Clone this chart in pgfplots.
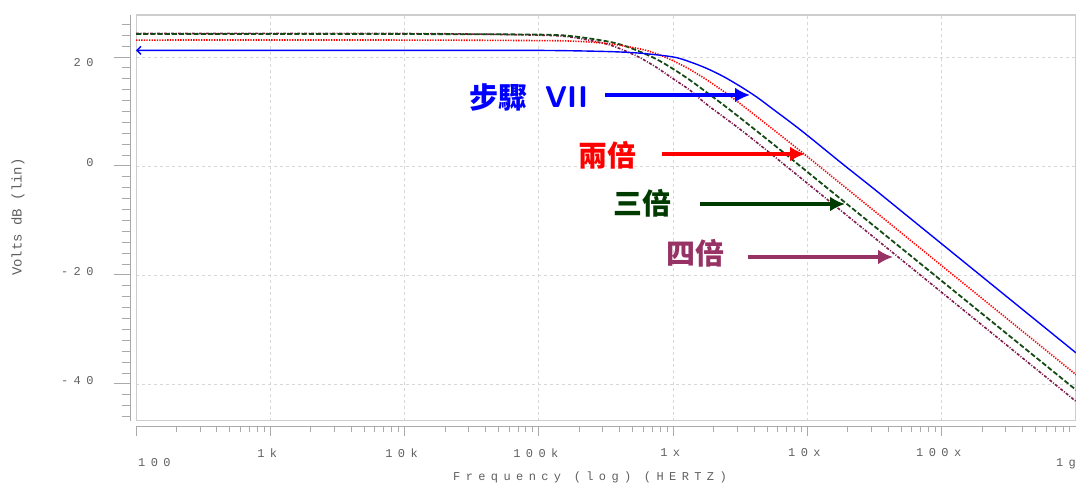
\documentclass[border=0pt]{standalone}
\usepackage{pgfplots}
\pgfplotsset{compat=1.18}
\usepackage{pgfplotstable}
\usepackage{fontspec}
\usetikzlibrary{arrows.meta}
\setmainfont{Liberation Sans}
\setmonofont{Liberation Mono}
\newfontfamily\cjk{Noto Sans CJK TC}
\newfontfamily\tickfont[LetterSpace=45]{Liberation Mono}
\definecolor{axgray}{RGB}{170,170,170}
\definecolor{framegray}{RGB}{205,205,205}
\definecolor{gridgray}{RGB}{215,215,215}
\definecolor{txtgray}{RGB}{95,95,95}
\definecolor{cblue}{RGB}{0,0,255}
\definecolor{cred}{RGB}{255,0,0}
\definecolor{cgreen}{RGB}{20,75,20}
\definecolor{cpurple}{RGB}{128,25,75}
\definecolor{lgreen}{RGB}{0,60,0}
\definecolor{lpurple}{RGB}{150,50,100}

\pgfplotstableread{
f db
100 21.2
1e4 21.2
1e5 21.2
3.162e5 21.0
5.623e5 20.7
1e6 20.0
1.334e6 19.1
1.778e6 17.9
2.371e6 16.4
3.162e6 14.6
4.217e6 12.6
5.623e6 10.3
7.499e6 8.0
1e7 5.6
1.778e7 0.6
3.162e7 -4.3
5.623e7 -9.3
1e8 -14.3
3.162e8 -24.3
1e9 -34.3
}\tblblue

\pgfplotstableread{
f db
100 23.1
1e4 23.1
1e5 23.0
1.778e5 22.9
3.162e5 22.5
5.623e5 21.5
7.499e5 20.6
1e6 19.3
1.334e6 17.7
1.778e6 15.8
2.371e6 13.7
3.162e6 11.4
5.623e6 6.6
1e7 1.7
1.778e7 -3.3
3.162e7 -8.3
5.623e7 -13.3
1e8 -18.3
3.162e8 -28.3
1e9 -38.3
}\tblred

\pgfplotstableread{
f db
100 24.2
1e4 24.2
1e5 24.1
1.778e5 23.8
3.162e5 22.9
4.217e5 22.15
5.623e5 21.0
7.499e5 19.6
1e6 17.8
1.334e6 15.75
1.778e6 13.5
2.371e6 11.2
3.162e6 8.8
5.623e6 3.9
1e7 -1.1
1.778e7 -6.1
3.162e7 -11.1
5.623e7 -16.1
1e8 -21.1
3.162e8 -31.1
1e9 -41.1
}\tblgreen

\pgfplotstableread{
f db
100 24.3
1e4 24.3
1e5 24.0
1.778e5 23.6
3.162e5 22.4
4.217e5 21.3
5.623e5 19.9
7.499e5 18.1
1e6 16.0
1.334e6 13.9
1.778e6 11.3
3.162e6 6.7
5.623e6 1.8
1e7 -3.2
1.778e7 -8.2
3.162e7 -13.2
5.623e7 -18.2
1e8 -23.2
3.162e8 -33.2
1e9 -43.2
}\tblpurple

\begin{document}
\begin{tikzpicture}
\useasboundingbox (0,0) rectangle (1076pt,484pt);
% main axis: grid, frame, data
\begin{axis}[
  scale only axis, width=940pt, height=406pt,
  at={(136pt,63pt)}, anchor=south west,
  xmode=log, xmin=100, xmax=1e9, ymin=-46.8, ymax=27.7,
  xtick={1e2,1e3,1e4,1e5,1e6,1e7,1e8,1e9}, minor xtick={},
  ytick={-40,-20,0,20}, minor ytick={},
  xticklabels={}, yticklabels={},
  tick style={draw=none},
  axis line style={draw=none},
  grid=major,
  major grid style={gridgray, line width=0.8pt, dash pattern=on 3pt off 3pt},
]
\draw[framegray, line width=2pt] (rel axis cs:0,0) rectangle (rel axis cs:1,1);
\addplot[cpurple, line width=1.6pt, smooth, tension=0.5, dash pattern=on 3pt off 1.5pt on 1pt off 1.5pt] table[x=f,y=db] {\tblpurple};
\addplot[cgreen, line width=1.8pt, smooth, tension=0.5, dash pattern=on 5pt off 2.2pt] table[x=f,y=db] {\tblgreen};
\addplot[cred, line width=1.6pt, smooth, tension=0.5, dash pattern=on 1.3pt off 1.3pt] table[x=f,y=db] {\tblred};
\addplot[cblue, line width=1.4pt, smooth, tension=0.5, {Straight Barb[length=4pt,width=8pt]}-] table[x=f,y=db] {\tblblue};
\end{axis}
% x axis line with ticks
\begin{axis}[
  scale only axis, width=940pt, height=406pt,
  at={(136pt,63pt)}, anchor=south west,
  xmode=log, xmin=100, xmax=1e9, ymin=-46.8, ymax=27.7,
  axis x line=bottom, axis y line=none,
  axis x line shift=6pt,
  every outer x axis line/.append style={-},
  x axis line style={-, draw=axgray, line width=1pt},
  xtick={1e2,1e3,1e4,1e5,1e6,1e7,1e8,1e9},
  xticklabels={,1k,10k,100k,1x,10x,100x,},
  minor xtick={2e2,3e2,4e2,5e2,6e2,7e2,8e2,9e2,2e3,3e3,4e3,5e3,6e3,7e3,8e3,9e3,2e4,3e4,4e4,5e4,6e4,7e4,8e4,9e4,2e5,3e5,4e5,5e5,6e5,7e5,8e5,9e5,2e6,3e6,4e6,5e6,6e6,7e6,8e6,9e6,2e7,3e7,4e7,5e7,6e7,7e7,8e7,9e7,2e8,3e8,4e8,5e8,6e8,7e8,8e8,9e8},
  tick align=outside, major tick length=9pt, minor tick length=5pt,
  tick style={axgray, line width=0.9pt},
  xticklabel style={font=\fontsize{12}{12}\tickfont, text=txtgray, yshift=-9pt, xshift=-3pt},
]
\end{axis}
% y axis line with ticks
\begin{axis}[
  scale only axis, width=940pt, height=406pt,
  at={(136pt,63pt)}, anchor=south west,
  xmode=log, xmin=100, xmax=1e9, ymin=-46.8, ymax=27.7,
  axis y line=left, axis x line=none,
  axis y line shift=6pt,
  every outer y axis line/.append style={-},
  y axis line style={-, draw=axgray, line width=1pt},
  ytick={-40,-20,0,20},
  yticklabels={{-40},{-20},{0},{\raisebox{-13pt}[0pt][0pt]{20}}},
  minor ytick={-46,-44,...,26},
  tick align=outside, major tick length=16pt, minor tick length=8pt,
  tick style={axgray, line width=0.9pt},
  yticklabel style={font=\fontsize{12}{12}\tickfont, text=txtgray, anchor=east, xshift=-17pt, yshift=3pt},
]
\end{axis}
% axis texts
\node[anchor=west, text=txtgray, font=\fontsize{12}{12}\tickfont, inner sep=0pt] at (138pt,21pt) {100};
\node[anchor=east, text=txtgray, font=\fontsize{12}{12}\tickfont, inner sep=0pt] at (1076pt,20pt) {1g};
\node[text=txtgray, font=\fontsize{12}{12}\tickfont, inner sep=0pt] at (590pt,7pt) {Frequency (log) (HERTZ)};
\node[rotate=90, text=txtgray, font=\fontsize{14}{14}\ttfamily, inner sep=0pt] at (18pt,267pt) {Volts dB (lin)};
% annotations
\node[text=cblue, font=\fontsize{29}{29}\cjk\bfseries, inner sep=0pt] at (498pt,386pt) {步驟};
\node[text=cblue, font=\fontsize{30}{30}\sffamily\bfseries, inner sep=0pt, anchor=west] at (545pt,387pt) {VII};
\draw[cblue, line width=4pt, -{Latex[length=15pt,width=15pt]}] (605pt,389pt) -- (750pt,389pt);
\node[text=cred, font=\fontsize{29}{29}\cjk\bfseries, inner sep=0pt] at (607pt,329pt) {兩倍};
\draw[cred, line width=4pt, -{Latex[length=15pt,width=15pt]}] (662pt,330pt) -- (805pt,330pt);
\node[text=lgreen, font=\fontsize{29}{29}\cjk\bfseries, inner sep=0pt] at (642pt,281pt) {三倍};
\draw[lgreen, line width=4pt, -{Latex[length=15pt,width=15pt]}] (700pt,280pt) -- (845pt,280pt);
\node[text=lpurple, font=\fontsize{29}{29}\cjk\bfseries, inner sep=0pt] at (695pt,231pt) {四倍};
\draw[lpurple, line width=4pt, -{Latex[length=15pt,width=15pt]}] (748pt,227pt) -- (893pt,227pt);
\end{tikzpicture}
\end{document}
